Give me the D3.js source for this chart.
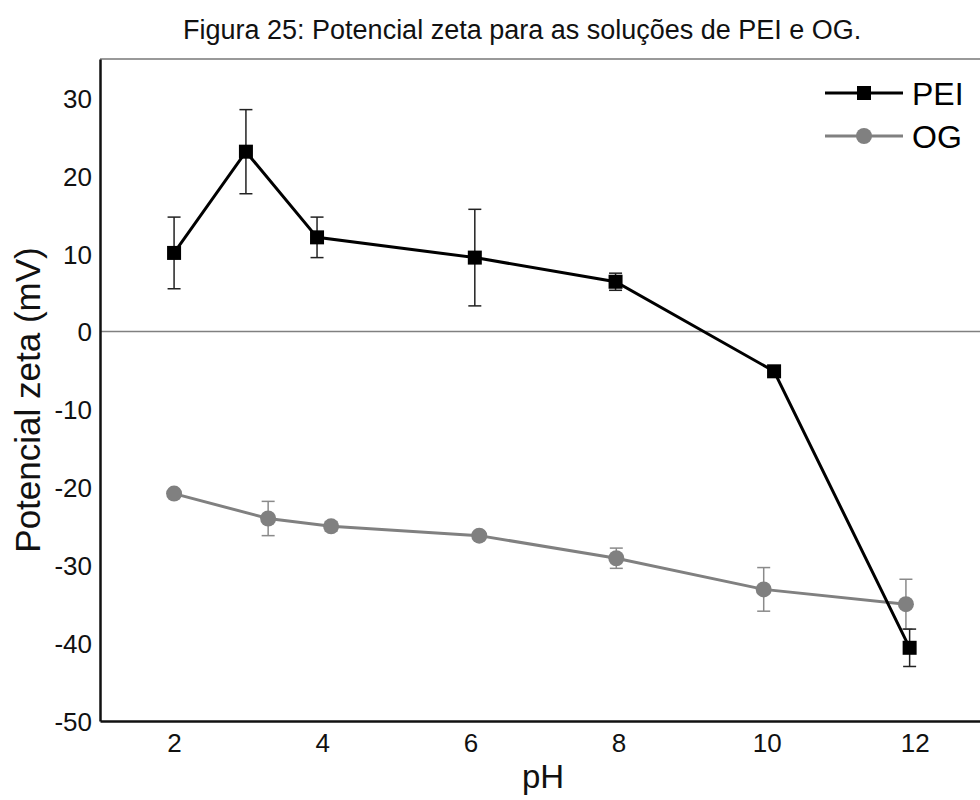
<!DOCTYPE html>
<html>
<head>
<meta charset="utf-8">
<script src="https://cdn.jsdelivr.net/npm/d3@7"></script>
<style>
  body { margin: 0; background: #fff; }
  svg { display: block; font-family: "Liberation Sans", Arial, sans-serif; }
</style>
</head>
<body>
<svg id="chart" width="980" height="800"></svg>
<script>
// PEI series
const peiPH = [2, 2.97, 3.93, 6.06, 7.96, 10.1, 11.93];
const peiZeta = [10.1, 23.1, 12.1, 9.5, 6.4, -5.1, -40.6];
const peiErr = [4.6, 5.4, 2.6, 6.2, 1.1, 0.3, 2.4];

// OG series
const ogPH = [2, 3.27, 4.12, 6.12, 7.97, 9.96, 11.88];
const ogZeta = [-20.8, -24.0, -25.0, -26.2, -29.1, -33.1, -35.0];
const ogErr = [0.4, 2.2, 0.6, 0.5, 1.3, 2.8, 3.2];

const xTicks = [2, 4, 6, 8, 10, 12];
const yTicks = [30, 20, 10, 0, -10, -20, -30, -40, -50];

const svg = d3.select("#chart");
const plotLeft = 100, plotRight = 980, plotTop = 59, plotBottom = 721;

const x = d3.scaleLinear().domain([1, 12.88]).range([plotLeft, plotRight]);
const y = d3.scaleLinear().domain([-50, 35]).range([plotBottom, plotTop]);

// title
svg.append("text")
  .attr("x", 183).attr("y", 39)
  .style("font-size", "27px")
  .attr("fill", "#111")
  .text("Figura 25: Potencial zeta para as soluções de PEI e OG.");

// frame: grey top line, zero line
svg.append("line")
  .attr("x1", plotLeft).attr("x2", plotRight).attr("y1", plotTop).attr("y2", plotTop)
  .attr("stroke", "#777").attr("stroke-width", 1.5);
svg.append("line")
  .attr("x1", plotLeft).attr("x2", plotRight).attr("y1", y(0)).attr("y2", y(0))
  .attr("stroke", "#808080").attr("stroke-width", 1.5);

// axes (no tick marks)
const yAxis = svg.append("g")
  .attr("transform", "translate(" + plotLeft + ",0)")
  .call(d3.axisLeft(y).tickValues(yTicks).tickFormat(d => String(d)).tickSize(0).tickPadding(8));
const xAxis = svg.append("g")
  .attr("transform", "translate(0," + plotBottom + ")")
  .call(d3.axisBottom(x).tickValues(xTicks).tickFormat(d => String(d)).tickSize(0).tickPadding(13));

[xAxis, yAxis].forEach(g => {
  g.select(".domain").attr("stroke", "#111").attr("stroke-width", 2.5);
  g.selectAll("text").style("font-size", "26px").attr("fill", "#111")
    .style("font-family", "'Liberation Sans', Arial, sans-serif");
});
xAxis.selectAll("text").attr("dy", "0.71em");
yAxis.selectAll("text").attr("dy", "0.36em");

// axis titles
svg.append("text")
  .attr("transform", "translate(40,400) rotate(-90)")
  .attr("text-anchor", "middle")
  .style("font-size", "35px").attr("fill", "#111")
  .text("Potencial zeta (mV)");
svg.append("text")
  .attr("x", 543).attr("y", 788)
  .attr("text-anchor", "middle")
  .style("font-size", "33px").attr("fill", "#111")
  .text("pH");

const pei = peiPH.map((p, i) => ({ x: p, y: peiZeta[i], e: peiErr[i] }));
const og = ogPH.map((p, i) => ({ x: p, y: ogZeta[i], e: ogErr[i] }));

function errorBars(data, color, width, cap) {
  const g = svg.append("g").attr("stroke", color).attr("stroke-width", width);
  data.forEach(d => {
    if (d.e < 0.5) return;
    g.append("line").attr("x1", x(d.x)).attr("x2", x(d.x))
      .attr("y1", y(d.y + d.e)).attr("y2", y(d.y - d.e));
    [d.y + d.e, d.y - d.e].forEach(v => {
      g.append("line").attr("x1", x(d.x) - cap).attr("x2", x(d.x) + cap)
        .attr("y1", y(v)).attr("y2", y(v));
    });
  });
}

const line = d3.line().x(d => x(d.x)).y(d => y(d.y));

// OG
errorBars(og, "#8a8a8a", 1.5, 6.5);
svg.append("path").datum(og).attr("d", line)
  .attr("fill", "none").attr("stroke", "#808080").attr("stroke-width", 3);
svg.selectAll(".og").data(og).enter().append("circle")
  .attr("cx", d => x(d.x)).attr("cy", d => y(d.y)).attr("r", 8)
  .attr("fill", "#808080");

// PEI
errorBars(pei, "#222", 1.5, 6.5);
svg.append("path").datum(pei).attr("d", line)
  .attr("fill", "none").attr("stroke", "#000").attr("stroke-width", 3);
svg.selectAll(".pei").data(pei).enter().append("rect")
  .attr("x", d => x(d.x) - 7).attr("y", d => y(d.y) - 7)
  .attr("width", 14).attr("height", 14)
  .attr("fill", "#000");

// legend
const legend = [
  { name: "PEI", color: "#000", shape: "square", ly: 93 },
  { name: "OG", color: "#808080", shape: "circle", ly: 136 }
];
legend.forEach(l => {
  svg.append("line").attr("x1", 825).attr("x2", 903)
    .attr("y1", l.ly).attr("y2", l.ly)
    .attr("stroke", l.color).attr("stroke-width", 3);
  if (l.shape === "square") {
    svg.append("rect").attr("x", 857).attr("y", l.ly - 7)
      .attr("width", 14).attr("height", 14).attr("fill", l.color);
  } else {
    svg.append("circle").attr("cx", 864).attr("cy", l.ly).attr("r", 8)
      .attr("fill", l.color);
  }
  svg.append("text").attr("x", 912).attr("y", l.ly).attr("dy", "0.36em")
    .style("font-size", "32px").attr("fill", "#000").text(l.name);
});
</script>
</body>
</html>
